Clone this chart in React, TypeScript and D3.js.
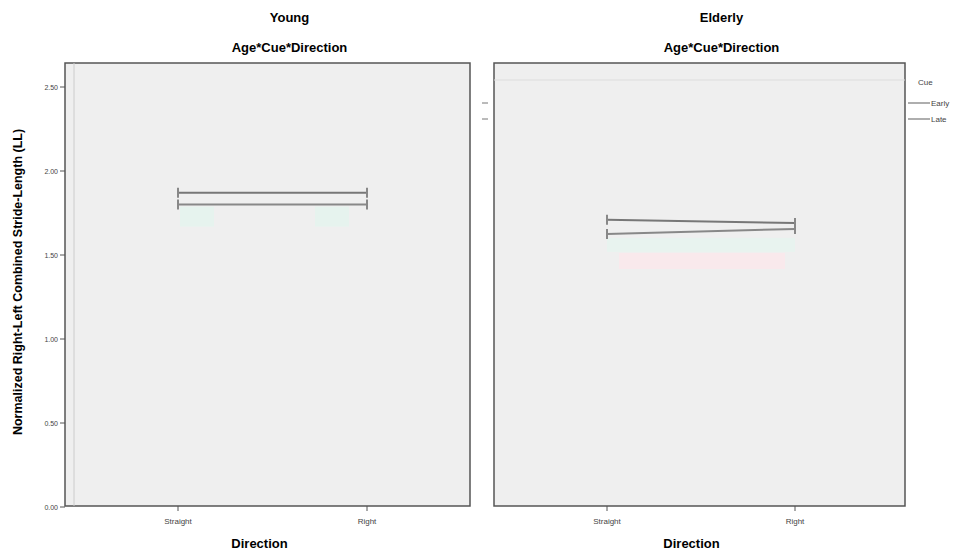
import React, { useEffect, useRef } from 'react';
import * as d3 from 'd3';

const directions = ['Straight', 'Right'];
const cues = ['Early', 'Late'];
const yTicks = [0, 0.5, 1.0, 1.5, 2.0, 2.5];

const youngEarly = [1.87, 1.87];
const youngLate = [1.80, 1.80];
const elderlyEarly = [1.71, 1.69];
const elderlyLate = [1.625, 1.655];

const panels = [
    { title: 'Young', early: youngEarly, late: youngLate, x0: 65, x1: 470, px0: 178, px1: 367 },
    { title: 'Elderly', early: elderlyEarly, late: elderlyLate, x0: 494, x1: 905, px0: 607, px1: 795 },
];

export default function App() {
    const ref = useRef<SVGSVGElement | null>(null);
    const width = 959;
    const height = 556;
    const top = 63;
    const bottom = 506;

    useEffect(() => {
        const svg = d3.select(ref.current);
        svg.selectAll('*').remove();

        const y = d3.scaleLinear().domain([0, 2.5]).range([507, 87]);
        const font = 'Arial, "Liberation Sans", sans-serif';

        panels.forEach((p, i) => {
            const x = d3.scalePoint<string>().domain(directions).range([p.px0, p.px1]);
            const g = svg.append('g');

            g.append('rect')
                .attr('x', p.x0).attr('y', top)
                .attr('width', p.x1 - p.x0).attr('height', bottom - top)
                .attr('fill', '#efefef')
                .attr('stroke', '#555').attr('stroke-width', 1.5);

            // faint shading left by the error bands
            if (i === 0) {
                g.append('rect').attr('x', x('Straight')! + 2).attr('y', y(1.80) + 2)
                    .attr('width', 34).attr('height', 20).attr('fill', '#e6f3ee');
                g.append('rect').attr('x', x('Right')! - 52).attr('y', y(1.80) + 2)
                    .attr('width', 34).attr('height', 20).attr('fill', '#e6f3ee');
            } else {
                g.append('rect').attr('x', x('Straight')!).attr('y', y(1.62) + 3)
                    .attr('width', x('Right')! - x('Straight')!).attr('height', 14).attr('fill', '#e8f3ef');
                g.append('rect').attr('x', x('Straight')! + 12).attr('y', y(1.50) - 2)
                    .attr('width', x('Right')! - x('Straight')! - 22).attr('height', 16).attr('fill', '#f9e9ec');
            }

            const line = d3.line<number>()
                .x((_, j) => x(directions[j])!)
                .y(d => y(d));

            [p.early, p.late].forEach((vals, k) => {
                g.append('path')
                    .attr('d', line(vals)!)
                    .attr('fill', 'none')
                    .attr('stroke', k === 0 ? '#777' : '#888')
                    .attr('stroke-width', 2);
                g.selectAll(null)
                    .data(vals)
                    .enter()
                    .append('line')
                    .attr('x1', (_, j) => x(directions[j])!)
                    .attr('x2', (_, j) => x(directions[j])!)
                    .attr('y1', d => y(d) - 5)
                    .attr('y2', d => y(d) + 5)
                    .attr('stroke', '#888')
                    .attr('stroke-width', 2);
            });

            // x axis ticks and labels
            directions.forEach(d => {
                g.append('line')
                    .attr('x1', x(d)!).attr('x2', x(d)!)
                    .attr('y1', bottom).attr('y2', bottom + 5)
                    .attr('stroke', '#555');
                g.append('text')
                    .attr('x', x(d)!).attr('y', bottom + 18)
                    .attr('text-anchor', 'middle')
                    .attr('font-size', 8).attr('font-family', font).attr('fill', '#444')
                    .text(d);
            });

            const cx = (p.x0 + p.x1) / 2 - 8;
            g.append('text')
                .attr('x', cx).attr('y', 548)
                .attr('text-anchor', 'middle')
                .attr('font-size', 13).attr('font-weight', 'bold').attr('font-family', font)
                .text('Direction');
            g.append('text')
                .attr('x', cx + 30).attr('y', 22)
                .attr('text-anchor', 'middle')
                .attr('font-size', 13).attr('font-weight', 'bold').attr('font-family', font)
                .text(p.title);
            g.append('text')
                .attr('x', cx + 30).attr('y', 52)
                .attr('text-anchor', 'middle')
                .attr('font-size', 13).attr('font-weight', 'bold').attr('font-family', font)
                .text('Age*Cue*Direction');
        });

        // inner line along left panel
        svg.append('line').attr('x1', 74).attr('x2', 74).attr('y1', top).attr('y2', bottom)
            .attr('stroke', '#ccc');
        svg.append('line').attr('x1', 494).attr('x2', 905).attr('y1', 80).attr('y2', 80)
            .attr('stroke', '#ddd');

        // y axis
        const yAxis = svg.append('g');
        yTicks.forEach(t => {
            yAxis.append('line')
                .attr('x1', 60).attr('x2', 65)
                .attr('y1', y(t)).attr('y2', y(t))
                .attr('stroke', '#555');
            yAxis.append('text')
                .attr('x', 58).attr('y', y(t) + 3)
                .attr('text-anchor', 'end')
                .attr('font-size', 7).attr('font-family', font).attr('fill', '#444')
                .text(t.toFixed(2));
        });
        svg.append('text')
            .attr('transform', `translate(22, 282) rotate(-90)`)
            .attr('text-anchor', 'middle')
            .attr('font-size', 12.5).attr('font-weight', 'bold').attr('font-family', font)
            .text('Normalized Right-Left Combined Stride-Length (LL)');

        // legend
        svg.append('text').attr('x', 918).attr('y', 85)
            .attr('font-size', 8).attr('font-family', font).attr('fill', '#444').text('Cue');
        cues.forEach((c, i) => {
            const ly = 103 + i * 16;
            svg.append('line').attr('x1', 908).attr('x2', 930).attr('y1', ly).attr('y2', ly)
                .attr('stroke', '#777').attr('stroke-width', 1.2);
            svg.append('text').attr('x', 931).attr('y', ly + 3)
                .attr('font-size', 8).attr('font-family', font).attr('fill', '#444').text(c);
            svg.append('line').attr('x1', 482).attr('x2', 488).attr('y1', ly).attr('y2', ly)
                .attr('stroke', '#777');
        });
    });

    return (
        <svg ref={ref} width={width} height={height} style={{ position: 'absolute', left: 0, top: 0, background: '#fff' }} />
    );
}
